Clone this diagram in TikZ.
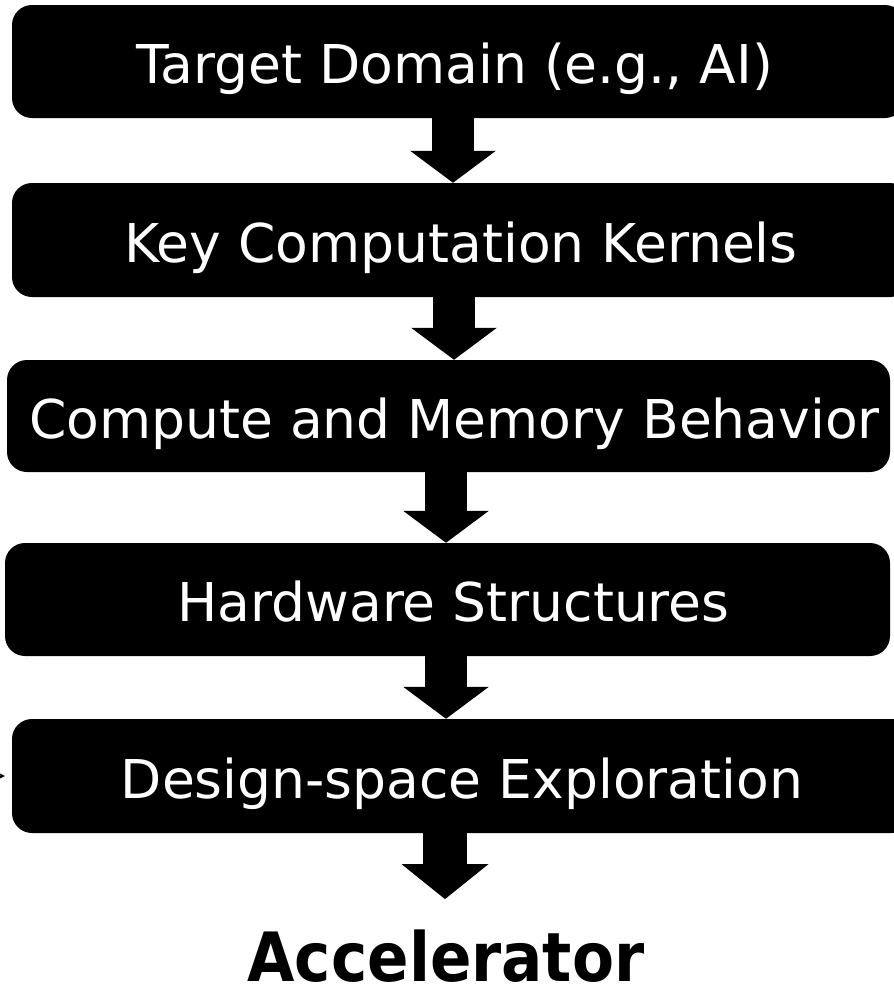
\documentclass[tikz,border=0pt]{standalone}
\usepackage{fontspec}
\setmainfont{DejaVu Sans}
\usetikzlibrary{arrows.meta}

\begin{document}
\begin{tikzpicture}[x=1pt, y=-1pt,
    stage/.style={fill=black, text=white, rounded corners=20pt, inner sep=0pt,
      text height=44pt, text depth=0pt, font=\fontsize{53.5}{60}\selectfont},
    blockarrow/.style={line width=42pt, -{Triangle[length=32pt, width=84pt]}}]
    \useasboundingbox (0, 0) rectangle (894, 989);
    \clip (0, 0) rectangle (894, 989);

    \node[stage, minimum width=893pt, minimum height=113pt] (domain) at (458.5, 61.5) {Target Domain (e.g., AI)\hspace*{7pt}};
    \node[stage, minimum width=898pt, minimum height=114pt] (kernels) at (461, 240) {Key Computation Kernels};
    \node[stage, minimum width=883pt, minimum height=112pt] (behavior) at (448.5, 416) {\hspace*{12pt}Compute and Memory Behavior};
    \node[stage, minimum width=885pt, minimum height=113pt] (hardware) at (447.5, 599.5) {\hspace*{12pt}Hardware Structures};
    \node[stage, minimum width=900pt, minimum height=114pt] (dse) at (462, 776) {Design-space Exploration};
    \node[font=\fontsize{68}{74}\bfseries, inner sep=0pt, text depth=0pt, anchor=base, xscale=0.9, transform shape] (accel) at (446, 981) {Accelerator};

    \draw[blockarrow] (domain.south -| 453, 0) -- (kernels.north -| 453, 0);
    \draw[blockarrow] (kernels.south -| 454, 0) -- (behavior.north -| 454, 0);
    \draw[blockarrow] (behavior.south -| 446, 0) -- (hardware.north -| 446, 0);
    \draw[blockarrow] (hardware.south -| 446, 0) -- (dse.north -| 446, 0);
    \draw[blockarrow, line width=44pt, -{Triangle[length=35pt, width=85pt]}, shorten >=30pt] (dse.south -| 445, 0) -- (accel.north -| 445, 0);

    % arrow coming in from the left edge
    \coordinate (feed) at (-40, 776);
    \draw[-{Stealth[length=6pt, width=6pt]}] (feed) -- ([xshift=-7pt]dse.west);
  \end{tikzpicture}
\end{document}
